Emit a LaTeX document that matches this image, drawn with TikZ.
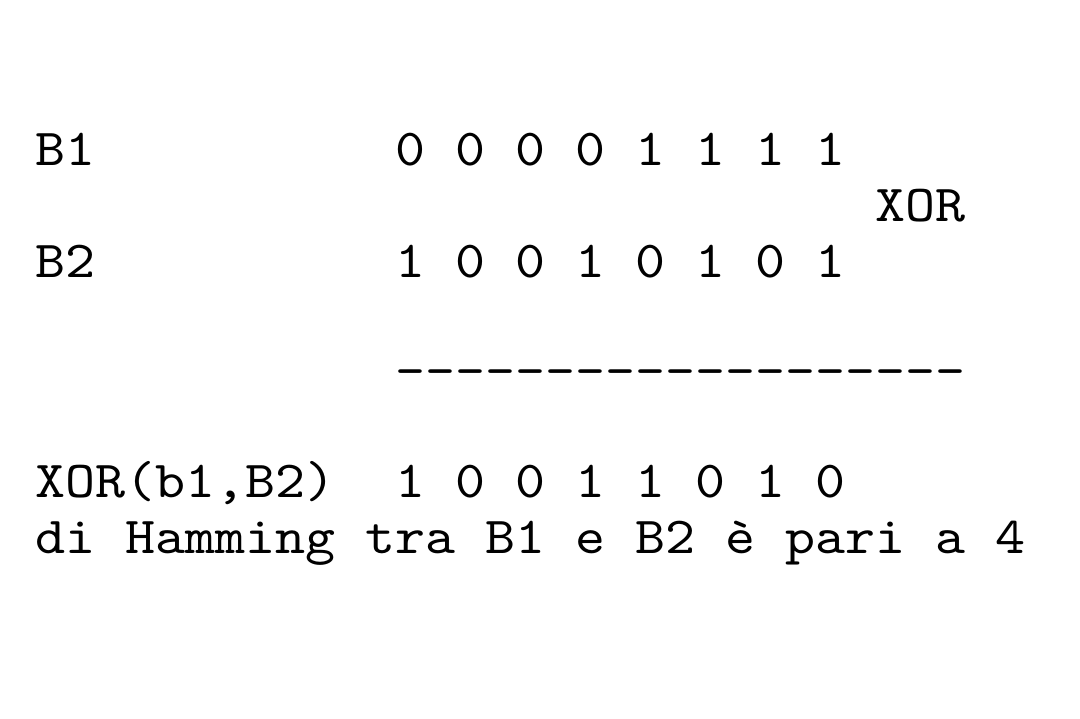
\documentclass[tikz,border=0pt]{standalone}
\usepackage{fontspec}
\setmonofont{lmmono10-regular.otf}[FakeStretch=1.099]
\begin{document}
\begin{tikzpicture}[x=0.5pt, y=-0.5pt,
    txt/.style={anchor=base west, inner sep=0pt, font=\ttfamily\fontsize{26}{30}\selectfont}]
        \useasboundingbox (0, 0) rectangle (1080, 718);
        % first row
        \node[txt] (b1) at (35, 165) {B1};
        \node[txt] (b1bits) at (395, 165) {0 0 0 0 1 1 1 1};
        \node[txt] (op) at (875, 221) {XOR};
        % second row
        \node[txt] (b2) at (35, 277) {B2};
        \node[txt] (b2bits) at (395, 277) {1 0 0 1 0 1 0 1};
        \node[txt] (rule) at (395, 387) {-{}-{}-{}-{}-{}-{}-{}-{}-{}-{}-{}-{}-{}-{}-{}-{}-{}-{}-};
        % result
        \node[txt] (res) at (35, 497) {XOR(b1,B2)};
        \node[txt] (resbits) at (395, 497) {1 0 0 1 1 0 1 0};
        \node[txt] (dist) at (35, 553) {di Hamming tra B1 e B2 è pari a 4};
\end{tikzpicture}
\end{document}
